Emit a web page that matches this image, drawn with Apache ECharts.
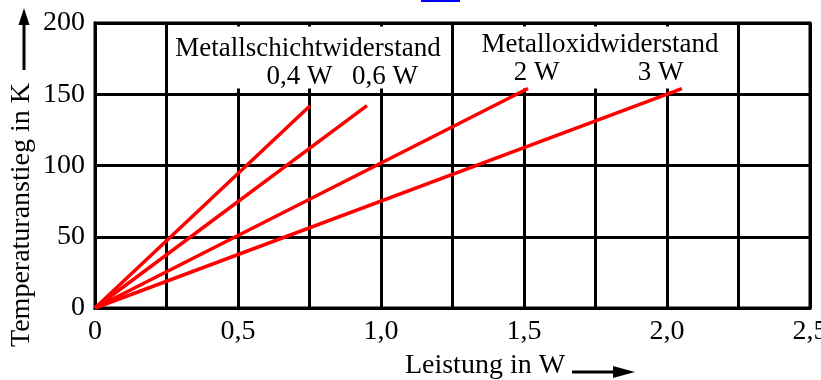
<!DOCTYPE html>
<html>
<head>
<meta charset="utf-8">
<script src="https://cdn.jsdelivr.net/npm/echarts@6/dist/echarts.min.js"></script>
<style>html,body{margin:0;padding:0;background:#fff}#c{width:821px;height:380px}</style>
</head>
<body>
<div id="c"></div>
<script>
// Data (power in W, temperature rise in K)
var seriesNames = ['0,4 W', '0,6 W', '2 W', '3 W'];
var line04 = [[0, 0], [0.752, 142]];
var line06 = [[0, 0], [0.951, 142]];
var line2 = [[0, 0], [1.514, 154]];
var line3 = [[0, 0], [2.052, 154]];
var xTicks = [0, 0.5, 1.0, 1.5, 2.0, 2.5];
var xTickLabels = ['0', '0,5', '1,0', '1,5', '2,0', '2,5'];
var yTicks = [0, 50, 100, 150, 200];

var FONT = '"Liberation Serif", "Times New Roman", serif';
var FS = 28;
var chart = echarts.init(document.getElementById('c'), null, {renderer: 'canvas'});

function lineSeries(name, data) {
  return {
    name: name, type: 'line', data: data, symbol: 'none', z: 20,
    lineStyle: {color: '#ff0000', width: 3.5}, silent: true, animation: false
  };
}
function txt(s, x, y, fs, extra) {
  var o = {type: 'text', x: x, y: y, z: 30, silent: true,
    style: {text: s, font: fs + 'px ' + FONT, fill: '#000', align: 'center', verticalAlign: 'middle'}};
  if (extra) for (var k in extra) o[k] = extra[k];
  return o;
}

var option = {
  animation: false,
  backgroundColor: '#fff',
  grid: {left: 95, right: 11, top: 23, bottom: 72, show: true, borderColor: '#000', borderWidth: 3,
    outerBoundsMode: 'none', containLabel: false},
  xAxis: {
    type: 'value', min: 0, max: 2.5, interval: 0.25,
    axisLine: {show: true, lineStyle: {color: '#000', width: 3}},
    axisTick: {show: false},
    splitLine: {show: true, lineStyle: {color: '#000', width: 3}},
    axisLabel: {
      margin: 10, color: '#000', fontFamily: FONT, fontSize: FS,
      formatter: function (v) {
        for (var i = 0; i < xTicks.length; i++) {
          if (Math.abs(v - xTicks[i]) < 1e-6) return xTickLabels[i];
        }
        return '';
      }
    }
  },
  yAxis: {
    type: 'value', min: 0, max: 200, interval: 50,
    axisLine: {show: true, lineStyle: {color: '#000', width: 3}},
    axisTick: {show: false},
    splitLine: {show: true, lineStyle: {color: '#000', width: 3}},
    axisLabel: {
      margin: 10, color: '#000', fontFamily: FONT, fontSize: FS,
      formatter: function (v) { return yTicks.indexOf(v) >= 0 ? String(v) : ''; }
    }
  },
  series: [
    lineSeries(seriesNames[0], line04),
    lineSeries(seriesNames[1], line06),
    lineSeries(seriesNames[2], line2),
    lineSeries(seriesNames[3], line3)
  ]
};
chart.setOption(option);

// white label boxes covering the upper grid band (between grid lines at 0.25/1.25/2.25)
var p1 = chart.convertToPixel({gridIndex: 0}, [0.25, 197.5]);
var p2 = chart.convertToPixel({gridIndex: 0}, [1.25, 154]);
var p3 = chart.convertToPixel({gridIndex: 0}, [2.25, 154]);
var half = 1.6;
var boxes = [
  {type: 'rect', z: 10, silent: true, shape: {x: p1[0] + half, y: p1[1], width: p2[0] - p1[0] - 2 * half, height: p2[1] - p1[1]}, style: {fill: '#fff'}},
  {type: 'rect', z: 10, silent: true, shape: {x: p2[0] + half, y: p1[1], width: p3[0] - p2[0] - 2 * half, height: p2[1] - p1[1]}, style: {fill: '#fff'}}
];

chart.setOption({
  graphic: boxes.concat([
    {type: 'rect', z: 30, shape: {x: 421, y: 0, width: 39, height: 2}, style: {fill: '#0000ff'}},
    txt('Metallschichtwiderstand', 308, 49, 27),
    txt(seriesNames[0], 299.5, 76.5, 27),
    txt(seriesNames[1], 385, 76.5, 27),
    txt('Metalloxidwiderstand', 600, 45, 27),
    txt(seriesNames[2], 536.5, 72.5, 27),
    txt(seriesNames[3], 660.5, 72.5, 27),
    // y axis title + arrow
    txt('Temperaturanstieg in K', 22, 215, 28, {rotation: Math.PI / 2}),
    {type: 'line', z: 30, shape: {x1: 24, y1: 70, x2: 24, y2: 22}, style: {stroke: '#000', lineWidth: 3}},
    {type: 'polygon', z: 30, shape: {points: [[24, 8], [18.5, 25], [29.5, 25]]}, style: {fill: '#000'}},
    // x axis title + arrow
    txt('Leistung in W', 485, 366, 28),
    {type: 'line', z: 30, shape: {x1: 572, y1: 372, x2: 616, y2: 372}, style: {stroke: '#000', lineWidth: 3}},
    {type: 'polygon', z: 30, shape: {points: [[635, 372], [613, 366], [613, 378]]}, style: {fill: '#000'}}
  ])
});
</script>
</body>
</html>
